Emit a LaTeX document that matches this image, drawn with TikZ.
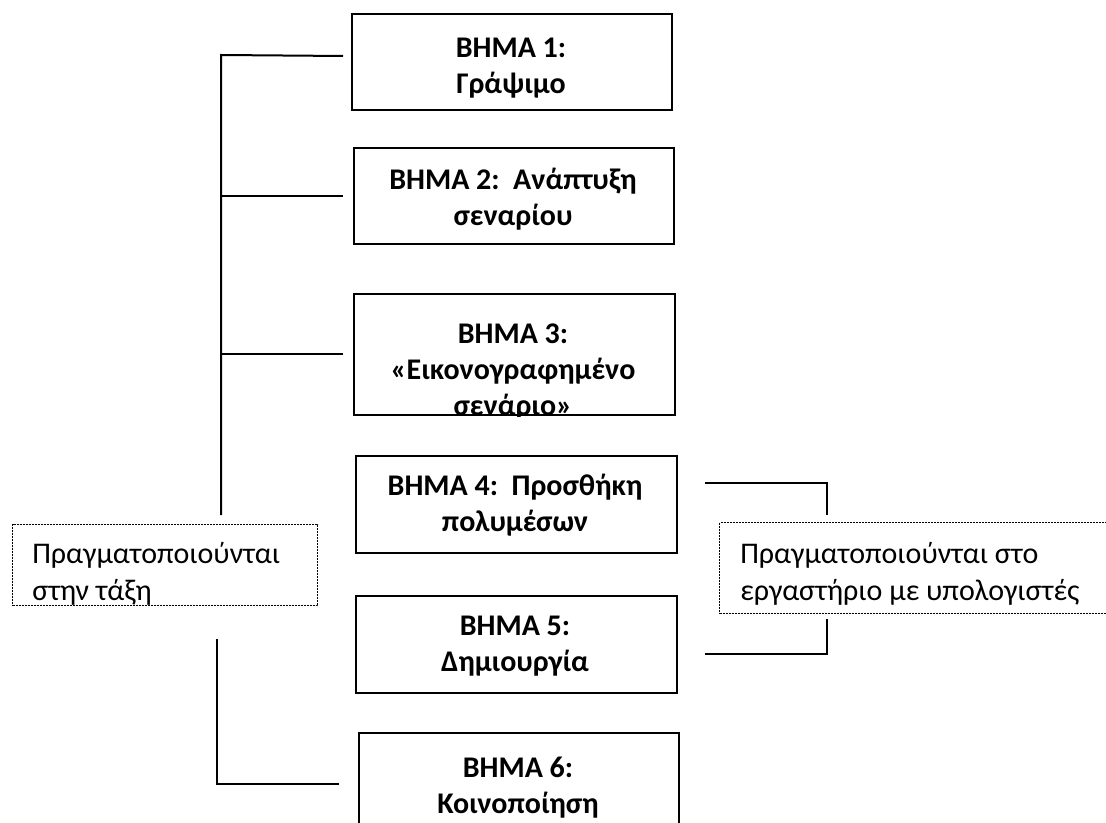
\documentclass[tikz,border=0pt]{standalone}
\usepackage{fontspec}
\setmainfont{Carlito}
\usepackage{tikz}

\begin{document}
\begin{tikzpicture}[x=0.75pt,y=-0.75pt,
	stepbox/.style 2 args={draw=black, line width=1.5pt, inner sep=0pt, anchor=north west,
		minimum width=#1*0.75pt, minimum height=#2*0.75pt},
	steptext/.style={font=\bfseries\fontsize{22.5}{27}\selectfont, align=center, anchor=north, inner sep=0pt},
	notebox/.style 2 args={draw=black, line width=0.75pt, dash pattern=on 1.5pt off 0.75pt, inner sep=0pt,
		anchor=north west, minimum width=#1*0.75pt, minimum height=#2*0.75pt},
	notetext/.style={font=\fontsize{22.5}{27.5}\selectfont, align=left, anchor=north west, inner sep=0pt},
	link/.style={line width=1.5pt}]
		\clip (0,0) rectangle (1106,823);
		
		\node[stepbox={320}{96}] (b1) at (351,13) {};
		\node[stepbox={320}{96}] (b2) at (353,147) {};
		\node[stepbox={321}{121}] (b3) at (353,293) {};
		\node[stepbox={321}{97}] (b4) at (355,455) {};
		\node[stepbox={321}{97}] (b5) at (355,595) {};
		\node[stepbox={320}{97}] (b6) at (358,732) {};
		
		\node[steptext] (t1) at (511,38) {ΒΗΜΑ 1:\\Γράψιμο};
		\node[steptext] (t2) at (513,168) {ΒΗΜΑ 2:\hspace{0.45em}Ανάπτυξη\\σεναρίου};
		\begin{scope}
			\clip (b3.north west) rectangle (b3.south east);
			\node[steptext] (t3) at (513,324) {ΒΗΜΑ 3:\\«Εικονογραφημένο\\σενάριο»};
		\end{scope}
		\node[steptext] (t4) at (515,474) {ΒΗΜΑ 4:\hspace{0.45em}Προσθήκη\\πολυμέσων};
		\node[steptext] (t5) at (515,616) {ΒΗΜΑ 5:\\Δημιουργία};
		\node[steptext] (t6) at (518,757) {ΒΗΜΑ 6:\\Κοινοποίηση};
		
		\node[notebox={305}{81}] (lnote) at (12,524) {};
		\node[notetext] (ltext) at (32,542) {Πραγματοποιούνται\\στην τάξη};
		\node[notebox={400}{91}] (rnote) at (719,522) {};
		\node[notetext] (rtext) at (740,542) {Πραγματοποιούνται στο\\εργαστήριο με υπολογιστές};
		
		\coordinate (ltop) at (221,55);
		\coordinate (lend) at (221,515);
		\coordinate (lstart) at (217,639);
		\coordinate (rtop) at (827,515);
		\coordinate (rbot) at (827,619);
		
		\draw[link] ([xshift=-6pt,yshift=4.5pt]b1.west) -- (ltop) -- (lend);
		\draw[link] (ltop |- b2.west) -- ([xshift=-7.5pt]b2.west);
		\draw[link] (ltop |- b3.west) -- ([xshift=-7.5pt]b3.west);
		\draw[link] (lstart) |- ([xshift=-14.25pt,yshift=-2pt]b6.west);
		
		\draw[link] ([xshift=20.25pt,yshift=16pt]b4.east) -| (rtop);
		\draw[link] (rbot) |- ([xshift=20.25pt,yshift=-7pt]b5.east);
\end{tikzpicture}
\end{document}
